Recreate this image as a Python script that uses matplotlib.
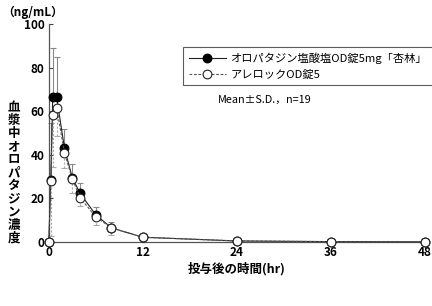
import matplotlib
matplotlib.use("Agg")
import matplotlib.pyplot as plt
import numpy as np

plt.rcParams['font.family'] = ['Noto Sans CJK JP', 'DejaVu Sans']

# sampling times (hr)
times = [0, 0.25, 0.5, 1, 2, 3, 4, 6, 8, 12, 24, 36, 48]

# オロパタジン塩酸塩OD錠5mg「杏林」
test_mean = [0, 28.5, 66.5, 66.5, 43.0, 29.5, 22.3, 12.5, 6.5, 2.2, 0.5, 0.2, 0.1]
test_sd = [0, 26.0, 22.5, 18.5, 8.7, 6.4, 4.7, 3.8, 2.7, 0.8, 0.3, 0.1, 0.05]

# アレロックOD錠5
ref_mean = [0, 28.0, 58.5, 61.5, 41.0, 29.0, 20.4, 11.5, 6.5, 2.2, 0.5, 0.2, 0.1]
ref_sd = [0, 25.0, 24.0, 13.0, 7.0, 6.3, 3.8, 3.7, 3.1, 0.8, 0.3, 0.1, 0.05]

labels = ['オロパタジン塩酸塩OD錠5mg「杏林」', 'アレロックOD錠5']
xticks = [0, 12, 24, 36, 48]
yticks = [0, 20, 40, 60, 80, 100]

fig = plt.figure(figsize=(4.32, 3.06), dpi=100)
ax = fig.add_axes([0.113, 0.209, 0.870, 0.712])

t = np.array(times)
z = np.zeros(len(t))

# error bars: test -> upper, reference -> lower (dashed)
eb1 = ax.errorbar(t, test_mean, yerr=[z, test_sd], fmt='none', ecolor='#888888',
                  elinewidth=0.8, capsize=2.5, capthick=0.8, clip_on=False, zorder=2)
eb2 = ax.errorbar(t, ref_mean, yerr=[ref_sd, z], fmt='none', ecolor='#aaaaaa',
                  elinewidth=0.8, capsize=2.5, capthick=0.8, clip_on=False, zorder=2)
for c in eb2[2]:
    c.set_linestyle((0, (2, 1.5)))

l1, = ax.plot(t, test_mean, '-', color='#222222', lw=0.8, marker='o', ms=6.3,
              mfc='black', mec='black', mew=0.8, clip_on=False, zorder=4)
l2, = ax.plot(t, ref_mean, '--', color='#555555', lw=0.8, dashes=(2.5, 1.5),
              marker='o', ms=6.3, mfc='white', mec='#222222', mew=0.8,
              clip_on=False, zorder=5)

ax.set_xlim(0, 48)
ax.set_ylim(0, 100)
ax.set_xticks(xticks)
ax.set_yticks(yticks)
ax.tick_params(direction='in', length=3, width=0.8, color='#444444',
               labelsize=8.5, pad=3)
for lab in ax.get_xticklabels() + ax.get_yticklabels():
    lab.set_fontweight('bold')

for s in ['top', 'right']:
    ax.spines[s].set_visible(False)
for s in ['left', 'bottom']:
    ax.spines[s].set_color('#555555')
    ax.spines[s].set_linewidth(0.9)

ax.set_xlabel('投与後の時間(hr)', fontsize=9, fontweight='bold', labelpad=2)

fig.text(0.005, 0.96, '（ng/mL）', fontsize=8.5, fontweight='bold',
         ha='left', va='center')
fig.text(0.032, 0.435, '\n'.join('血漿中オロパタジン濃度'), fontsize=9,
         fontweight='bold', ha='center', va='center', linespacing=1.0)

leg = ax.legend([l1, l2], labels, loc='upper left',
                bbox_to_anchor=(0.424, 0.847), bbox_transform=fig.transFigure,
                prop={'size': 8.1}, frameon=True,
                fancybox=False, edgecolor='#333333',
                handlelength=3.3, handletextpad=0.4, borderpad=0.5,
                labelspacing=0.5, borderaxespad=0)
leg.get_frame().set_linewidth(0.8)

fig.text(0.505, 0.675, 'Mean±S.D.，n=19', fontsize=7.8, ha='left', va='center')

fig.savefig('out.png', dpi=100)
